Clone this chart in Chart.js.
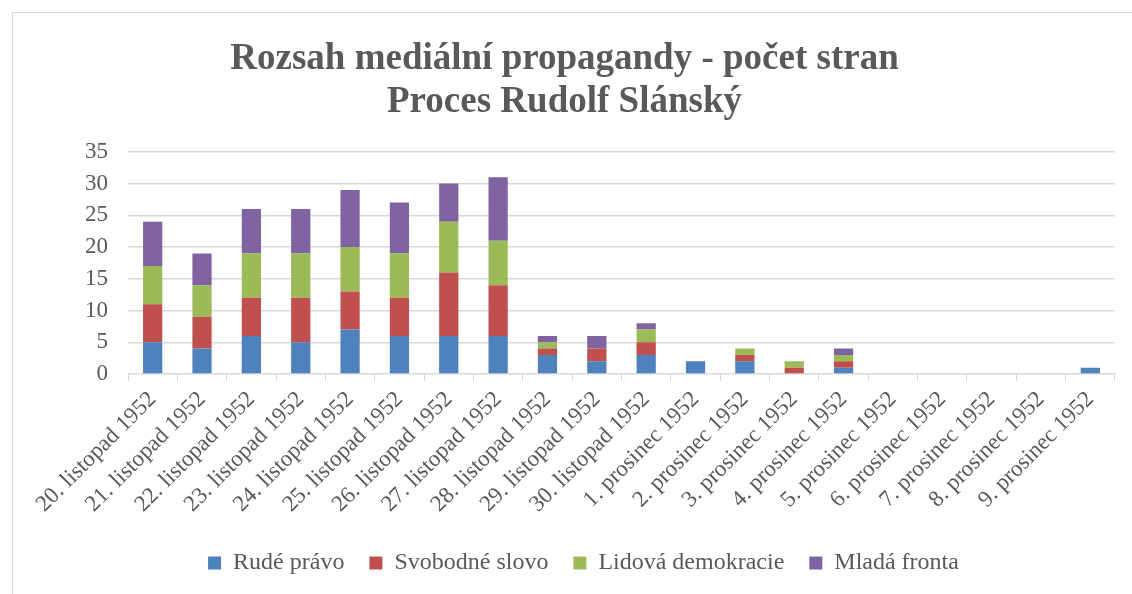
<!DOCTYPE html>
<html>
<head>
<meta charset="utf-8">
<script src="https://cdn.jsdelivr.net/npm/chart.js@4.4.1/dist/chart.umd.min.js"></script>
<style>
html,body{margin:0;padding:0;background:#fff;}
#wrap{position:relative;width:1132px;height:594px;overflow:hidden;}
#frame{position:absolute;left:12px;top:12px;width:1130px;height:590px;border-top:1px solid #d9d9d9;border-left:1px solid #d9d9d9;}
canvas{position:absolute;left:0;top:0;}
</style>
</head>
<body>
<div id="wrap"><div id="frame"></div><canvas id="c" width="1132" height="594"></canvas></div>
<script>
const categories = ["20. listopad 1952","21. listopad 1952","22. listopad 1952","23. listopad 1952","24. listopad 1952","25. listopad 1952","26. listopad 1952","27. listopad 1952","28. listopad 1952","29. listopad 1952","30. listopad 1952","1. prosinec 1952","2. prosinec 1952","3. prosinec 1952","4. prosinec 1952","5. prosinec 1952","6. prosinec 1952","7. prosinec 1952","8. prosinec 1952","9. prosinec 1952"];
const rudePravo      = [5,4,6,5,7,6,6,6,3,2,3,2,2,0,1,0,0,0,0,1];
const svobodneSlovo  = [6,5,6,7,6,6,10,8,1,2,2,0,1,1,1,0,0,0,0,0];
const lidovaDemokracie = [6,5,7,7,7,7,8,7,1,0,2,0,1,1,1,0,0,0,0,0];
const mladaFronta    = [7,5,7,7,9,8,6,10,1,2,1,0,0,0,1,0,0,0,0,0];
const yTicks = [0,5,10,15,20,25,30,35];

const serif = "'Liberation Serif','Times New Roman',serif";
const txt = '#595959';

const legendShift = {
  id: 'legendShift',
  afterLayout(chart) {
    if (chart.legend) { chart.legend.left += 19; chart.legend.right += 19; }
  }
};

new Chart(document.getElementById('c'), {
  type: 'bar',
  data: {
    labels: categories,
    datasets: [
      {label:'Rudé právo', data: rudePravo, backgroundColor:'#4f81bd'},
      {label:'Svobodné slovo', data: svobodneSlovo, backgroundColor:'#c0504d'},
      {label:'Lidová demokracie', data: lidovaDemokracie, backgroundColor:'#9bbb59'},
      {label:'Mladá fronta', data: mladaFronta, backgroundColor:'#8064a2'}
    ]
  },
  plugins: [legendShift],
  options: {
    responsive: false,
    animation: false,
    layout: {padding: {left: 14, right: 17, top: 38, bottom: 9}},
    datasets: {bar: {barPercentage: 0.39, categoryPercentage: 1.0}},
    plugins: {
      title: {
        display: true,
        text: ['Rozsah mediální propagandy - počet stran','Proces Rudolf Slánský'],
        color: txt,
        font: {family: serif, size: 37, weight: 'bold', lineHeight: 1.16},
        padding: {top: 0, bottom: 28}
      },
      legend: {
        position: 'bottom',
        labels: {
          color: txt,
          font: {family: serif, size: 24},
          boxWidth: 13, boxHeight: 13,
          padding: 25
        }
      },
      tooltip: {enabled: false}
    },
    scales: {
      x: {
        stacked: true,
        afterFit: (ax) => { ax.height += 3; },
        grid: {display: true, drawOnChartArea: false, drawTicks: true, tickLength: 7, color: '#d9d9d9', offset: true},
        border: {display: true, color: '#d9d9d9'},
        ticks: {color: txt, font: {family: serif, size: 23}, maxRotation: 45, minRotation: 45, autoSkip: false, padding: 5}
      },
      y: {
        stacked: true,
        min: 0, max: 35,
        afterFit: (ax) => { ax.width = 114; },
        afterBuildTicks: (ax) => { ax.ticks = yTicks.map(v => ({value: v})); },
        grid: {color: '#d9d9d9', lineWidth: 1.5, drawTicks: false},
        border: {display: false},
        ticks: {color: txt, font: {family: serif, size: 23}, padding: 20}
      }
    }
  }
});
</script>
</body>
</html>
